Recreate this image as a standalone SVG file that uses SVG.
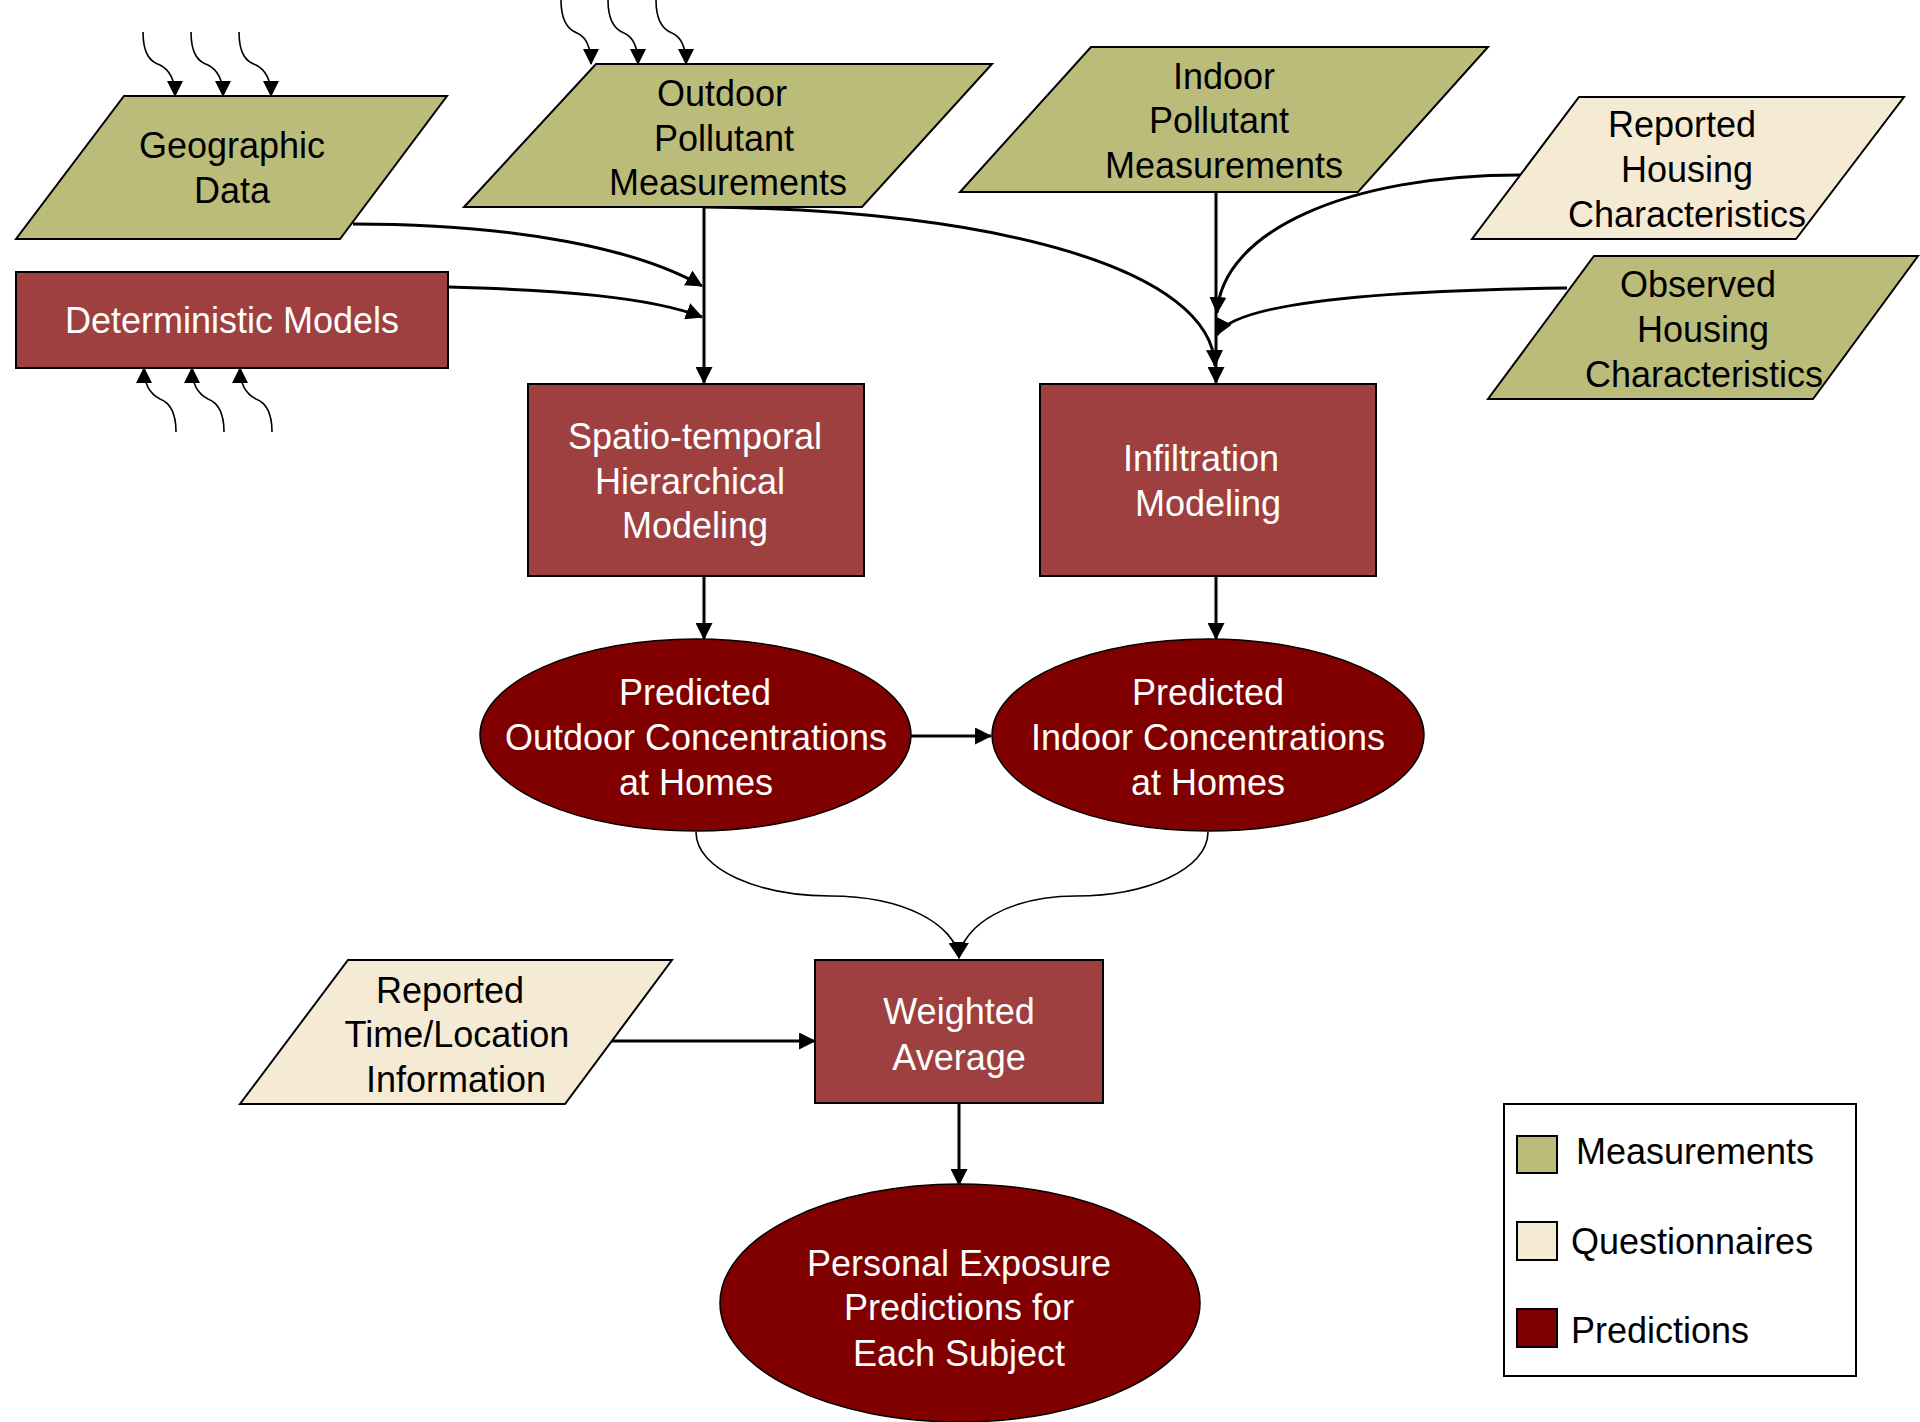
<svg xmlns="http://www.w3.org/2000/svg" width="1920" height="1422" viewBox="0 0 1920 1422">
<style>
text{font-family:"Liberation Sans",Arial,sans-serif;font-size:36px;text-anchor:middle}
.dk{fill:#000}
.wt{fill:#fff}
.meas{fill:#BCBC7A;stroke:#000;stroke-width:2}
.ques{fill:#F5EBD5;stroke:#000;stroke-width:2}
.proc{fill:#9E3F40;stroke:#000;stroke-width:2}
.pred{fill:#800000;stroke:#000;stroke-width:1.5}
.c{fill:none;stroke:#000;stroke-width:3}
.t{fill:none;stroke:#000;stroke-width:1.6}
</style>
<defs>
<marker id="arr" viewBox="0 0 16 16" markerWidth="17" markerHeight="17" refX="15" refY="8" orient="auto" markerUnits="userSpaceOnUse"><path d="M0,0 L16,8 L0,16 Z" fill="#000"/></marker>
<marker id="arrS" viewBox="0 0 16 16" markerWidth="16" markerHeight="16" refX="15" refY="8" orient="auto" markerUnits="userSpaceOnUse"><path d="M0,0 L16,8 L0,16 Z" fill="#000"/></marker>
</defs>
<rect width="1920" height="1422" fill="#fff"/>

<g id="connectors">
<path class="c" d="M704,207 V383" marker-end="url(#arr)"/>
<path class="c" d="M353,224 C520,224 640,250 702,286" marker-end="url(#arr)"/>
<path class="c" d="M448,287 C560,290 650,297 702,317" marker-end="url(#arr)"/>
<path class="c" d="M704,207 C1000,210 1212,270 1215,366" marker-end="url(#arr)"/>
<path class="c" d="M1216,192 V383" marker-end="url(#arr)"/>
<path class="c" d="M1520,175 C1350,175 1222,230 1217,313" marker-end="url(#arr)"/>
<path class="c" d="M1567,288 C1400,290 1235,300 1217,335" marker-end="url(#arr)"/>
<path class="c" d="M704,576 V639" marker-end="url(#arr)"/>
<path class="c" d="M1216,576 V639" marker-end="url(#arr)"/>
<path class="c" d="M911,736 H991" marker-end="url(#arr)"/>
<path class="t" d="M696,832 C696,870 760,896 830,896 C905,896 955,925 959,958" marker-end="url(#arr)"/>
<path class="t" d="M1208,832 C1208,870 1145,896 1076,896 C1010,896 962,925 959,958" marker-end="url(#arr)"/>
<path class="c" d="M609,1041 H815" marker-end="url(#arr)"/>
<path class="c" d="M959,1103 V1185" marker-end="url(#arr)"/>
<path class="t" d="M143,32 C143,55 151,62 160,65 C170,70 175,80 175,96" marker-end="url(#arrS)"/>
<path class="t" d="M191,32 C191,55 199,62 208,65 C218,70 223,80 223,96" marker-end="url(#arrS)"/>
<path class="t" d="M239,32 C239,55 247,62 256,65 C266,70 271,80 271,96" marker-end="url(#arrS)"/>
<path class="t" d="M561,0 C561,23 569,30 577,33 C586,37 591,48 591,64" marker-end="url(#arrS)"/>
<path class="t" d="M608,0 C608,23 616,30 624,33 C633,37 638,48 638,64" marker-end="url(#arrS)"/>
<path class="t" d="M656,0 C656,23 664,30 672,33 C681,37 686,48 686,64" marker-end="url(#arrS)"/>
<path class="t" d="M176,432 C176,409 168,402 160,399 C150,394 144,384 144,368" marker-end="url(#arrS)"/>
<path class="t" d="M224,432 C224,409 216,402 208,399 C198,394 192,384 192,368" marker-end="url(#arrS)"/>
<path class="t" d="M272,432 C272,409 264,402 256,399 C246,394 240,384 240,368" marker-end="url(#arrS)"/>
</g>

<g id="geographic">
<polygon class="meas" points="124,96 447,96 340,239 16,239"/>
<text class="dk" x="232" y="158">Geographic</text>
<text class="dk" x="232" y="203">Data</text>
</g>
<g id="deterministic">
<rect class="proc" x="16" y="272" width="432" height="96"/>
<text class="wt" x="232" y="333">Deterministic Models</text>
</g>
<g id="outdoor-meas">
<polygon class="meas" points="596,64 992,64 862,207 464,207"/>
<text class="dk" x="722" y="106">Outdoor</text>
<text class="dk" x="724" y="151">Pollutant</text>
<text class="dk" x="728" y="195">Measurements</text>
</g>
<g id="indoor-meas">
<polygon class="meas" points="1091,47 1488,47 1358,192 960,192"/>
<text class="dk" x="1224" y="89">Indoor</text>
<text class="dk" x="1219" y="133">Pollutant</text>
<text class="dk" x="1224" y="178">Measurements</text>
</g>
<g id="reported-housing">
<polygon class="ques" points="1579,97 1904,97 1796,239 1472,239"/>
<text class="dk" x="1682" y="137">Reported</text>
<text class="dk" x="1687" y="182">Housing</text>
<text class="dk" x="1687" y="227">Characteristics</text>
</g>
<g id="observed-housing">
<polygon class="meas" points="1594,256 1918,256 1813,399 1488,399"/>
<text class="dk" x="1698" y="297">Observed</text>
<text class="dk" x="1703" y="342">Housing</text>
<text class="dk" x="1704" y="387">Characteristics</text>
</g>
<g id="spatio">
<rect class="proc" x="528" y="384" width="336" height="192"/>
<text class="wt" x="695" y="449">Spatio-temporal</text>
<text class="wt" x="690" y="494">Hierarchical</text>
<text class="wt" x="695" y="538">Modeling</text>
</g>
<g id="infiltration">
<rect class="proc" x="1040" y="384" width="336" height="192"/>
<text class="wt" x="1201" y="471">Infiltration</text>
<text class="wt" x="1208" y="516">Modeling</text>
</g>
<g id="pred-outdoor">
<ellipse class="pred" cx="695.5" cy="735" rx="215.5" ry="96"/>
<text class="wt" x="695" y="705">Predicted</text>
<text class="wt" x="696" y="750">Outdoor Concentrations</text>
<text class="wt" x="696" y="795">at Homes</text>
</g>
<g id="pred-indoor">
<ellipse class="pred" cx="1208" cy="735" rx="216" ry="96"/>
<text class="wt" x="1208" y="705">Predicted</text>
<text class="wt" x="1208" y="750">Indoor Concentrations</text>
<text class="wt" x="1208" y="795">at Homes</text>
</g>
<g id="reported-time">
<polygon class="ques" points="348,960 672,960 565,1104 240,1104"/>
<text class="dk" x="450" y="1003">Reported</text>
<text class="dk" x="457" y="1047">Time/Location</text>
<text class="dk" x="456" y="1092">Information</text>
</g>
<g id="weighted">
<rect class="proc" x="815" y="960" width="288" height="143"/>
<text class="wt" x="959" y="1024">Weighted</text>
<text class="wt" x="959" y="1070">Average</text>
</g>
<g id="personal">
<ellipse class="pred" cx="960" cy="1303" rx="240" ry="119"/>
<text class="wt" x="959" y="1276">Personal Exposure</text>
<text class="wt" x="959" y="1320">Predictions for</text>
<text class="wt" x="959" y="1366">Each Subject</text>
</g>
<g id="legend">
<rect x="1504" y="1104" width="352" height="272" fill="#fff" stroke="#000" stroke-width="2"/>
<rect x="1517" y="1136" width="40" height="37" fill="#BCBC7A" stroke="#000" stroke-width="2"/>
<rect x="1517" y="1222" width="40" height="38" fill="#F5EBD5" stroke="#000" stroke-width="2"/>
<rect x="1517" y="1309" width="40" height="38" fill="#800000" stroke="#000" stroke-width="2"/>
<text class="dk" x="1576" y="1164" style="text-anchor:start">Measurements</text>
<text class="dk" x="1571" y="1254" style="text-anchor:start">Questionnaires</text>
<text class="dk" x="1571" y="1343" style="text-anchor:start">Predictions</text>
</g>
</svg>
